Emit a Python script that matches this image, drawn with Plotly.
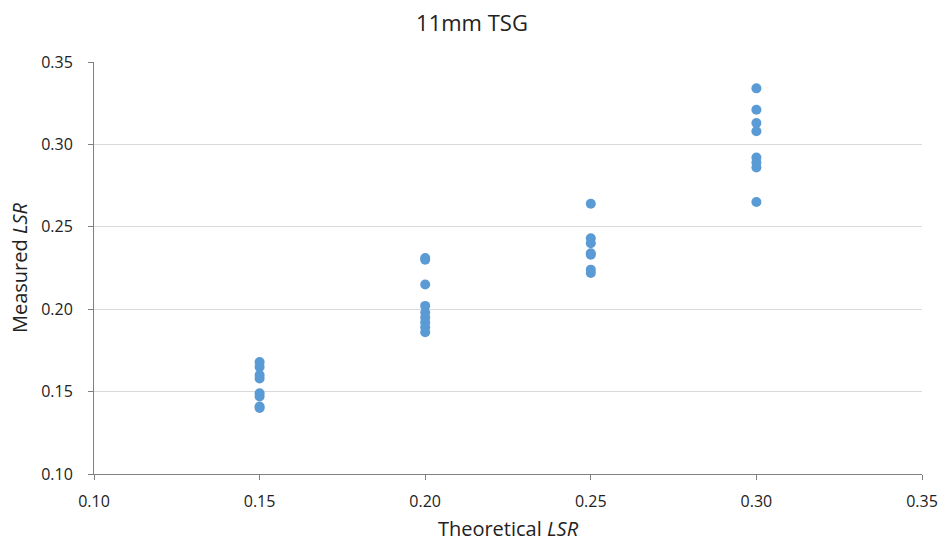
import plotly.graph_objects as go

theoretical_015 = [0.15] * 8
measured_015 = [0.168, 0.165, 0.160, 0.158, 0.149, 0.147, 0.141, 0.140]
theoretical_020 = [0.20] * 9
measured_020 = [0.231, 0.230, 0.215, 0.202, 0.198, 0.195, 0.192, 0.189, 0.186]
theoretical_025 = [0.25] * 7
measured_025 = [0.264, 0.243, 0.240, 0.234, 0.233, 0.224, 0.222]
theoretical_030 = [0.30] * 8
measured_030 = [0.334, 0.321, 0.313, 0.308, 0.292, 0.289, 0.286, 0.265]

x = theoretical_015 + theoretical_020 + theoretical_025 + theoretical_030
y = measured_015 + measured_020 + measured_025 + measured_030

font_family = "Open Sans, Liberation Sans, sans-serif"

fig = go.Figure(go.Scatter(
    x=x, y=y, mode="markers",
    marker=dict(color="#5B9BD5", size=10, line=dict(width=0)),
    showlegend=False,
))

fig.update_layout(
    width=944, height=544,
    margin=dict(l=94, r=22, t=62, b=70, autoexpand=False),
    paper_bgcolor="white", plot_bgcolor="white",
    font=dict(family=font_family, size=16, color="#404040"),
    title=dict(text="11mm TSG", x=0.5, xanchor="center", y=0.958, yanchor="middle",
               font=dict(size=22, color="#222222", family=font_family)),
)
fig.update_xaxes(
    range=[0.10, 0.35], tickvals=[0.10, 0.15, 0.20, 0.25, 0.30, 0.35], tickformat=".2f",
    showgrid=False, showline=True, linecolor="#808080", linewidth=1,
    ticks="outside", ticklen=5, tickcolor="#808080",
    zeroline=False, automargin=False, ticklabelstandoff=8,
    title=dict(text="Theoretical <i>LSR</i>", font=dict(size=20, color="#222222"), standoff=10),
    tickfont=dict(size=16, color="#222222"),
)
fig.update_yaxes(
    range=[0.10, 0.35], tickvals=[0.10, 0.15, 0.20, 0.25, 0.30, 0.35], tickformat=".2f",
    showgrid=True, gridcolor="#D9D9D9", gridwidth=1,
    showline=True, linecolor="#808080", linewidth=1,
    ticks="outside", ticklen=5, tickcolor="#808080",
    zeroline=False, automargin=False, ticklabelstandoff=12,
    title=dict(text="Measured <i>LSR</i>", font=dict(size=20, color="#222222"), standoff=8),
    tickfont=dict(size=16, color="#222222"),
)

fig.write_html("out.html")
